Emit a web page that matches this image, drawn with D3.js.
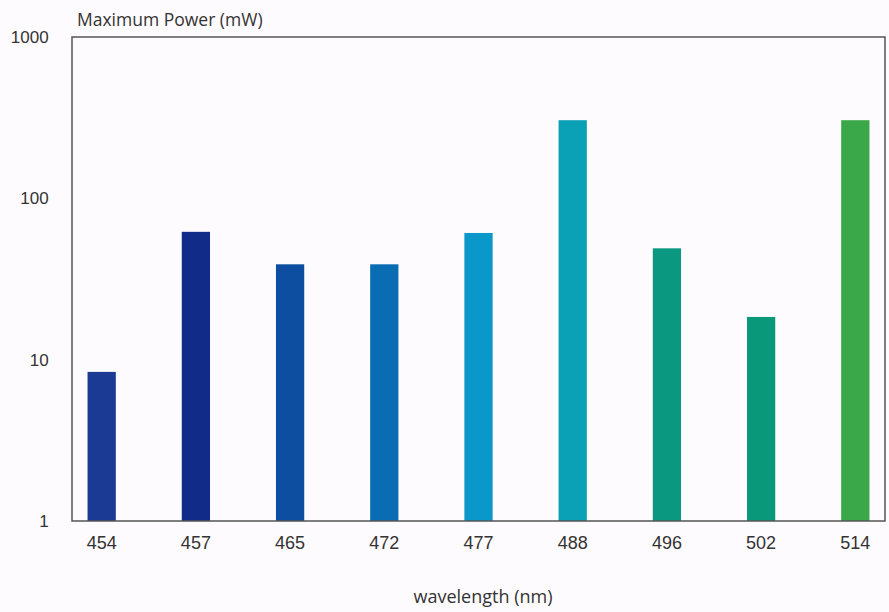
<!DOCTYPE html>
<html>
<head>
<meta charset="utf-8">
<script src="https://cdn.jsdelivr.net/npm/d3@7"></script>
<style>
  body { margin: 0; background: #fefbfe; }
  svg { display: block; font-family: 'Open Sans', sans-serif; }
  .axis text { fill: #333; font-size: 17px; }
  .x.axis text { font-size: 18px; }
</style>
</head>
<body>
<div class="chart"></div>
<script>
// wavelengths (nm) and max power (mW)
const wavelengths = ['454', '457', '465', '472', '477', '488', '496', '502', '514'];
const powers = [8.4, 62, 39, 39, 61, 305, 49, 18.4, 305];
const barColors = ['#1a3a94', '#112b88', '#0d4ea0', '#0a6cb2', '#0a97c9', '#0aa0b5', '#0a9980', '#0a987b', '#3aa748'];
const yTicks = [1, 10, 100, 1000];

const data = wavelengths.map((w, i) => ({ wl: w, power: powers[i], color: barColors[i] }));

const margin = { top: 37, right: 4, bottom: 91, left: 72 };
const width = 889 - margin.left - margin.right;
const height = 612 - margin.top - margin.bottom;

const svg = d3.select('.chart')
  .append('svg')
  .attr('width', 889)
  .attr('height', 612)
  .append('g')
  .attr('transform', `translate(${margin.left},${margin.top})`);

const xScale = d3.scaleBand()
  .domain(wavelengths)
  .range([0, width])
  .paddingInner(0.7)
  .paddingOuter(0.165);

const yScale = d3.scaleLog()
  .domain([1, 1000])
  .range([height, 0]);

// bars
svg.selectAll('.bar')
  .data(data)
  .enter()
  .append('rect')
  .attr('class', 'bar')
  .attr('x', d => xScale(d.wl))
  .attr('y', d => yScale(d.power))
  .attr('width', xScale.bandwidth())
  .attr('height', d => height - yScale(d.power))
  .style('fill', d => d.color);

// frame round the plot
svg.append('rect')
  .attr('width', width)
  .attr('height', height)
  .attr('fill', 'none')
  .attr('stroke', '#555')
  .attr('stroke-width', 1.5);

// axes, no tick marks
const xAxisDraw = svg.append('g')
  .attr('class', 'x axis')
  .attr('transform', `translate(0,${height})`)
  .call(d3.axisBottom(xScale).tickSize(0));
xAxisDraw.select('.domain').remove();
xAxisDraw.selectAll('text').attr('dy', '1.4em');

const yAxisDraw = svg.append('g')
  .attr('class', 'y axis')
  .call(d3.axisLeft(yScale).tickValues(yTicks).tickFormat(d3.format('d')).tickSize(0));
yAxisDraw.select('.domain').remove();
yAxisDraw.selectAll('text').attr('dx', '-1.2em');

// titles
svg.append('text')
  .attr('x', 5)
  .attr('y', -11)
  .style('font-size', '17.5px')
  .style('fill', '#333')
  .text('Maximum Power (mW)');

svg.append('text')
  .attr('x', 411)
  .attr('y', height + 82)
  .attr('text-anchor', 'middle')
  .style('font-size', '18px')
  .style('fill', '#333')
  .text('wavelength (nm)');
</script>
</body>
</html>
